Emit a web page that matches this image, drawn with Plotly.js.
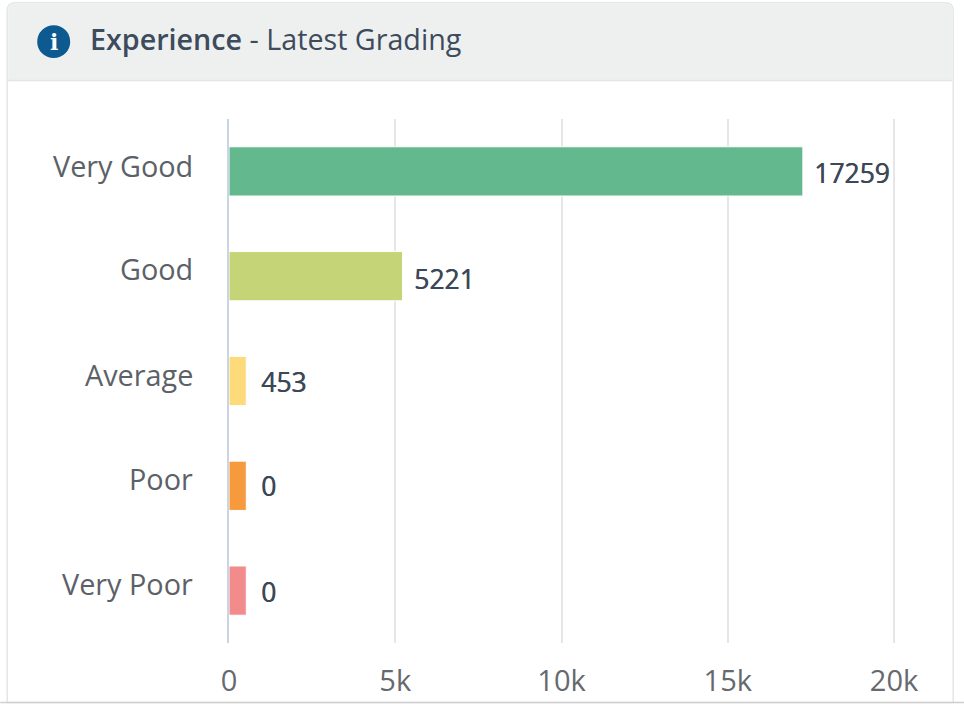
<!DOCTYPE html>
<html><head><meta charset="utf-8">
<script src="https://cdn.plot.ly/plotly-3.0.1.min.js"></script>
<style>html,body{margin:0;padding:0;background:#fff;overflow:hidden}</style>
</head><body><div id="chart" style="width:964px;height:712px"></div>
<script>
const categories = ["Very Good","Good","Average","Poor","Very Poor"];
const values = [17259,5221,453,0,0];
const colors = ["#63b98d","#c5d476","#fddb7b","#f79a3e","#f18b8c"];
const minBar = 520; // the source chart gives small bars a minimum visible length
const tickVals = [0,5000,10000,15000,20000];
const tickText = ["0","5k","10k","15k","20k"];
const catShift = [6,7.5,7,7,7];
const valShift = [-2,-2.5,-1,0,-1];
const valGap = [9,9,13,13,13];

const W=964,H=712,L=228.8,R=895.8,T=118.5,B=643.5;
const px=x=>(x-L)/(R-L), py=y=>(B-y)/(B-T);
const rounded=(x0,y0,x1,y1,r,fill,line)=>({type:'path',xref:'paper',yref:'paper',layer:'below',fillcolor:fill,line:line||{width:0},
  path:`M ${px(x0)} ${py(y1)} L ${px(x0)} ${py(y0+r)} Q ${px(x0)} ${py(y0)} ${px(x0+r)} ${py(y0)} L ${px(x1-r)} ${py(y0)} Q ${px(x1)} ${py(y0)} ${px(x1)} ${py(y0+r)} L ${px(x1)} ${py(y1)} Z`});
const FONT='"Open Sans", sans-serif';
const shown=values.map(v=>Math.max(v,minBar));

const annotations=[];
categories.forEach((c,i)=>{
  annotations.push({xref:'paper',yref:'y',x:px(195),y:c,text:c,showarrow:false,xanchor:'right',yanchor:'middle',yshift:catShift[i],
    font:{family:FONT,size:28.8,color:'#5c6168'}});
  annotations.push({xref:'x',yref:'y',x:shown[i],y:c,text:String(values[i]),showarrow:false,xanchor:'left',yanchor:'middle',xshift:valGap[i],yshift:valShift[i],
    font:{family:FONT,size:26.5,color:'#3c4858',shadow:'0.5px 0 0 #3c4858'}});
});
annotations.push({xref:'paper',yref:'paper',x:px(88),y:py(38),xanchor:'left',yanchor:'middle',showarrow:false,
  text:'<span style="font-weight:600">Experience</span> - Latest Grading',font:{family:FONT,size:28.7,color:'#3d4b5c'}});
annotations.push({xref:'paper',yref:'paper',x:px(53.5),y:py(41),xanchor:'center',yanchor:'middle',showarrow:false,
  text:'<b>i</b>',font:{family:'"DejaVu Serif", serif',size:22,color:'#ffffff'}});

const shapes=[
  rounded(7,2,953,703,8,'#ffffff',{color:'#e4e6e6',width:1.5}),
  rounded(8,3,952,80,7,'#eef0f0'),
  {type:'line',xref:'paper',yref:'paper',x0:px(8),x1:px(952),y0:py(80),y1:py(80),line:{color:'#e3e5e5',width:1.5},layer:'below'},
  {type:'line',xref:'paper',yref:'paper',x0:px(0),x1:px(964),y0:py(703),y1:py(703),line:{color:'#cfcfcf',width:1.5},layer:'below'},
  {type:'circle',xref:'paper',yref:'paper',x0:px(37),x1:px(70),y0:py(24.5),y1:py(57.5),fillcolor:'#0d5a91',line:{width:0},layer:'below'}
];

Plotly.newPlot('chart',[{
  type:'bar',orientation:'h',y:categories,x:shown,width:0.47,
  marker:{color:colors,line:{color:'#ffffff',width:1}},hoverinfo:'skip',cliponaxis:false
}],{
  width:W,height:H,margin:{l:L,r:W-R,t:T,b:H-B,pad:0},
  paper_bgcolor:'#fff',plot_bgcolor:'rgba(0,0,0,0)',showlegend:false,
  xaxis:{range:[0,20060],tickvals:tickVals,ticktext:tickText,showgrid:true,gridcolor:'#e5e6e7',gridwidth:2,zeroline:false,
    ticks:'outside',ticklen:12,tickcolor:'rgba(0,0,0,0)',tickfont:{family:FONT,size:29,color:'#66696e'}},
  yaxis:{type:'category',categoryorder:'array',categoryarray:categories,autorange:false,range:[4.5,-0.5],
    showticklabels:false,showgrid:false,zeroline:false,showline:true,linecolor:'#c9d5e4',linewidth:2.5,ticks:''},
  shapes,annotations
},{displayModeBar:false,staticPlot:true});
</script></body></html>
